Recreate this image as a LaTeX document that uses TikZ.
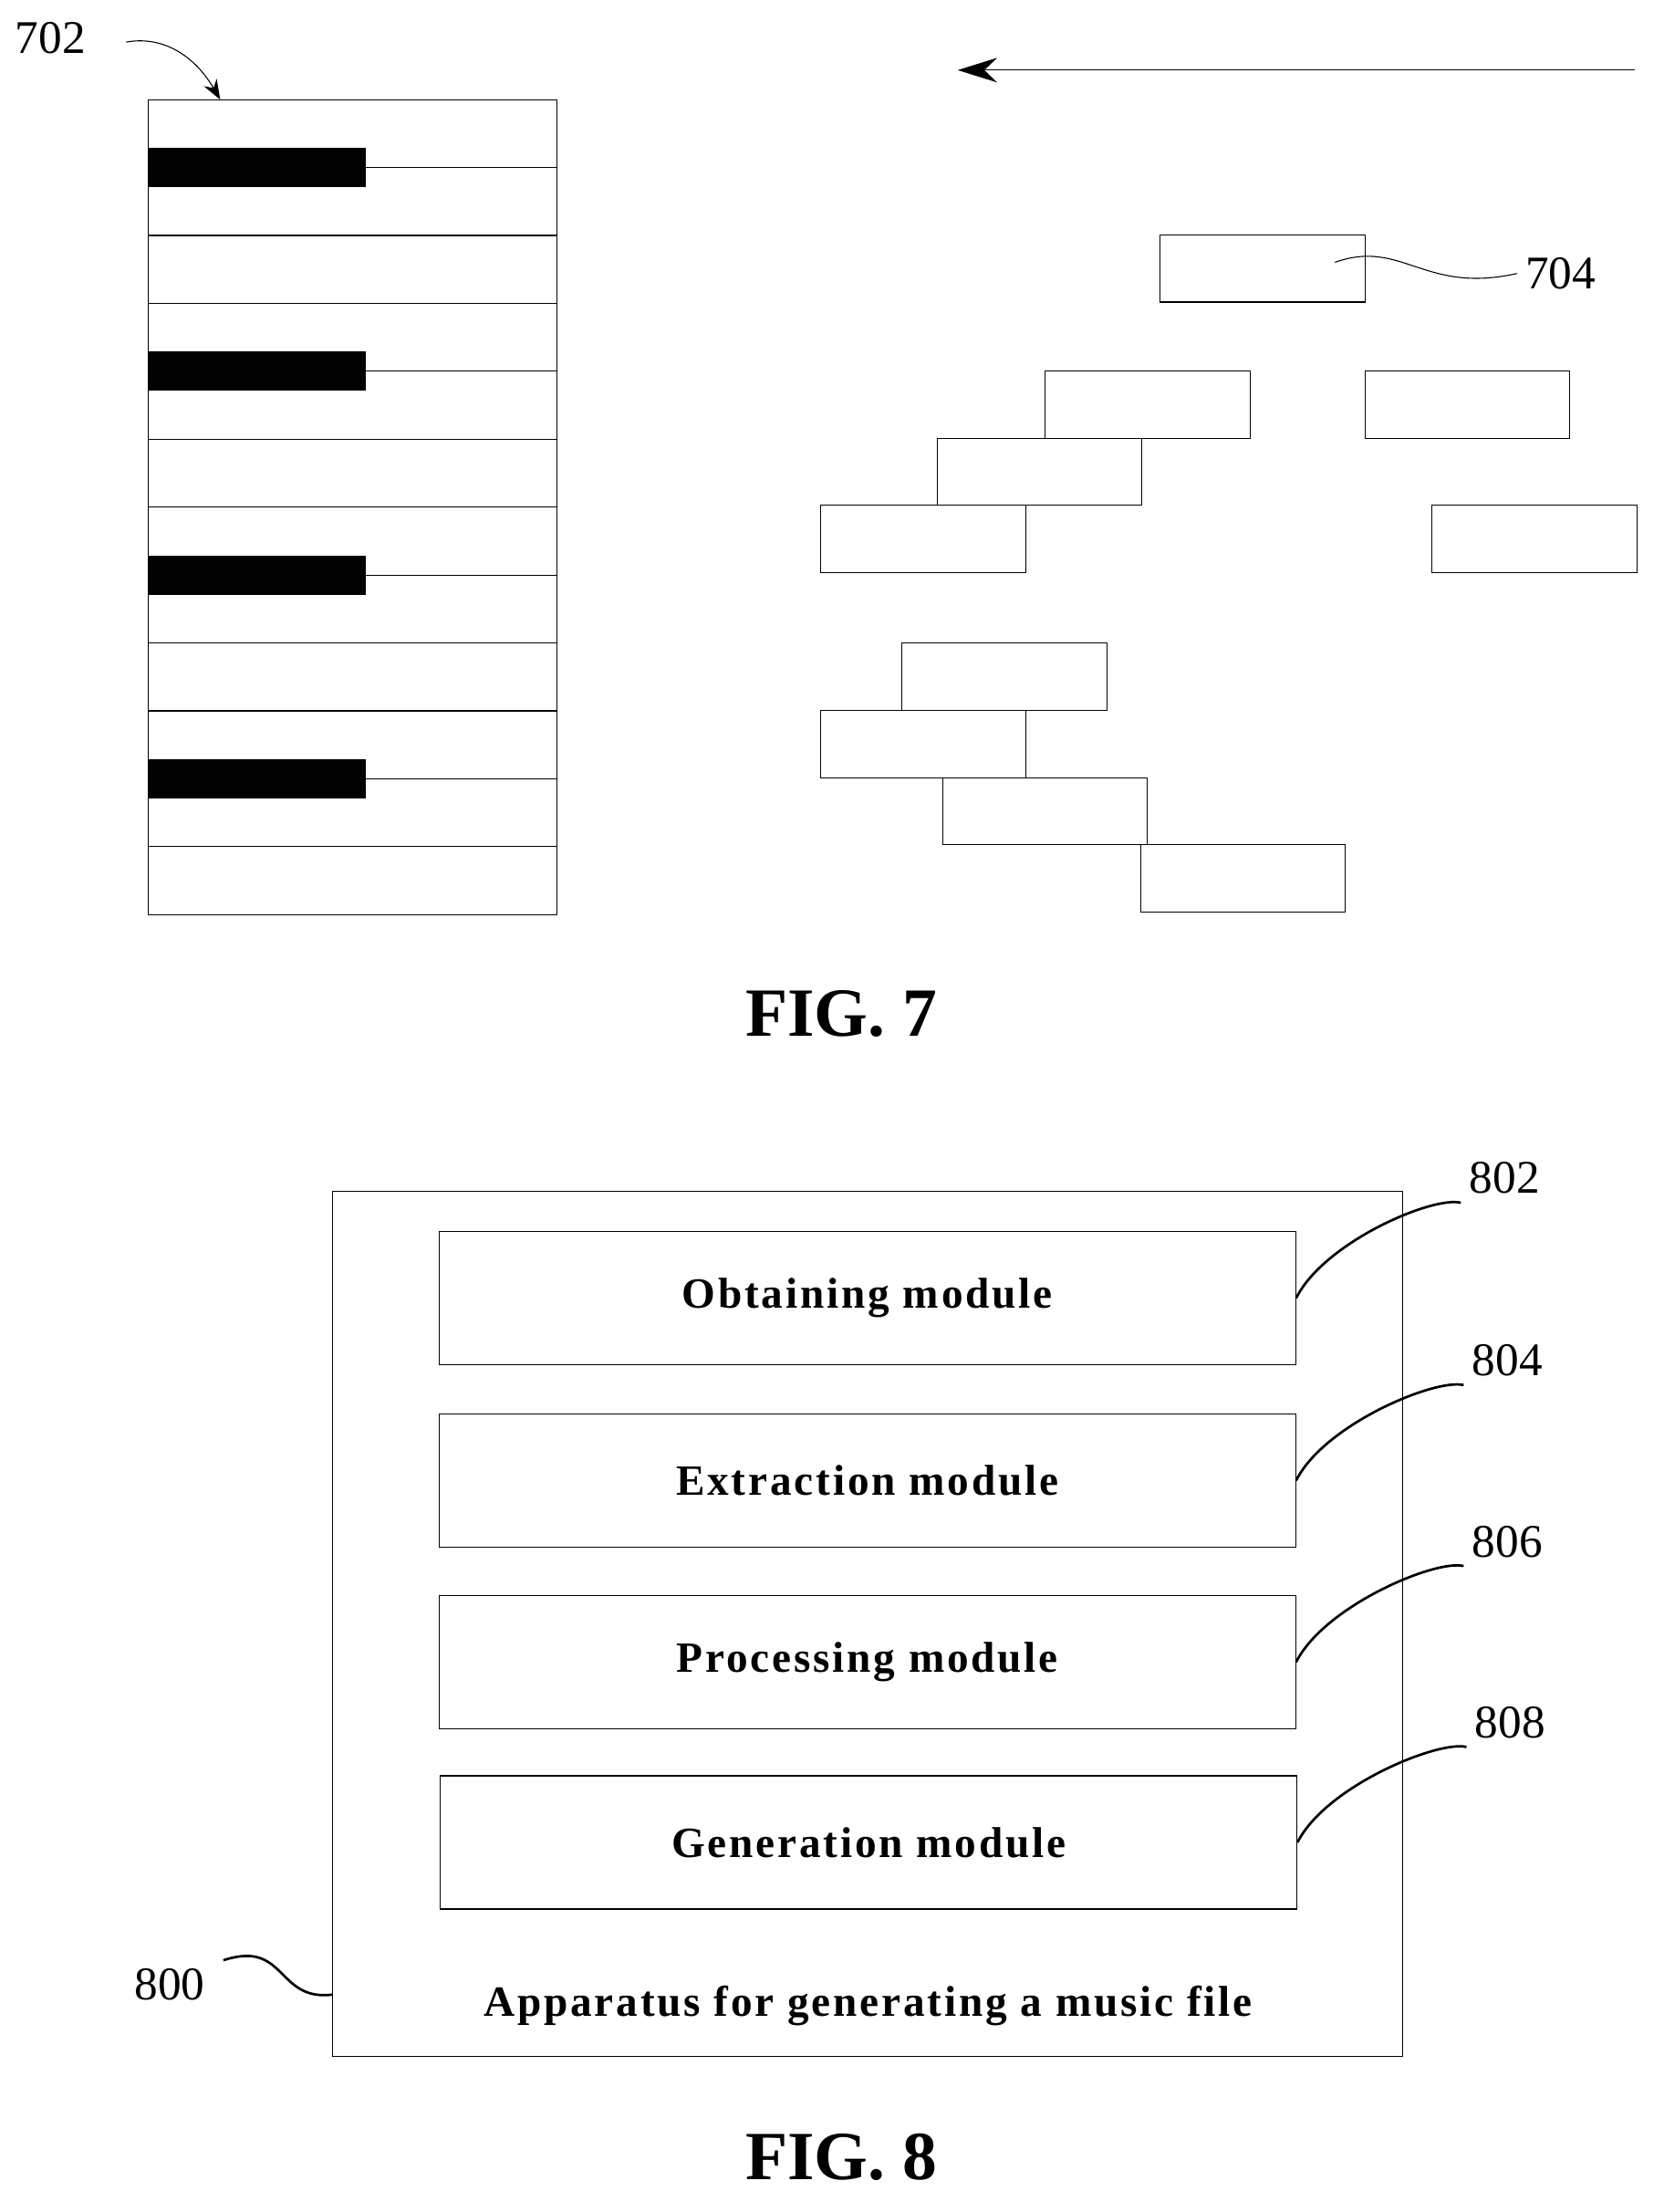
\documentclass[tikz,border=0pt]{standalone}
\usepackage{fontspec}
\setmainfont{Liberation Serif}
\usetikzlibrary{arrows.meta}

\tikzset{note/.style={draw, thin, minimum width=2.92cm, minimum height=0.96cm, inner sep=0pt, anchor=north west},
module/.style={draw, thin, minimum width=12.22cm, minimum height=1.9cm, font=\fontsize{17.5}{19}\selectfont\bfseries\addfontfeature{LetterSpace=6}},
num/.style={font=\fontsize{19}{21}\selectfont},
fig/.style={font=\fontsize{28}{32}\selectfont\bfseries},
lead/.style={thin}}

\begin{document}
\begin{tikzpicture}[x=0.02cm,y=-0.02cm]
\useasboundingbox (0,0) rectangle (1186,1577);

% piano roll
\draw[thin] (106,71) rectangle (397,652);
\foreach \r in {2,3,5,6,8,9,11}
  \draw[thin] (106,{71+\r*48.42}) -- (397,{71+\r*48.42});
\foreach \r in {1,4,7,10} {
  \fill (106,{71+\r*48.42-14}) rectangle (261,{71+\r*48.42+14});
  \draw[thin] (261,{71+\r*48.42}) -- (397,{71+\r*48.42});
}
\node[num] (l702) at (36,27) {702};
\draw[lead, -{Stealth[length=8pt]}] (90,30) to[out=10,in=120] (157,71);

% time direction
\coordinate (tstart) at (1166,50);
\coordinate (tend) at (683,50);
\draw[thin, -{Stealth[length=16pt,width=10pt]}] (tstart) -- (tend);

% notes
\node[note] (n1) at (827,167) {};
\node[note] (n2) at (745,264) {};
\node[note] (n3) at (973,264) {};
\node[note] (n4) at (668,312) {};
\node[note] (n5) at (585,360) {};
\node[note] (n6) at (1021,360) {};
\node[note] (n7) at (643,458) {};
\node[note] (n8) at (585,506) {};
\node[note] (n9) at (672,554) {};
\node[note] (n10) at (813,602) {};
\node[num] (l704) at (1113,195) {704};
\draw[lead] (952,187) .. controls (1000,170) and (1015,210) .. (l704.west);

\node[fig] (fig7) at (600,723) {FIG. 7};

% apparatus
\node[draw, thin, minimum width=15.26cm, minimum height=12.34cm, anchor=north west] (app) at (237,849) {};
\node[module] (obt) at (618.5,925.5) {Obtaining module};
\node[module] (ext) at (618.5,1055.5) {Extraction module};
\node[module] (pro) at (618.5,1185) {Processing module};
\node[module] (gen) at (619.5,1313.5) {Generation module};
\node[font=\fontsize{17.5}{19}\selectfont\bfseries\addfontfeature{LetterSpace=6}] (atext) at (619,1430) {Apparatus for generating a music file};

\node[num] (l802) at (1073,840) {802};
\node[num] (l804) at (1075,970) {804};
\node[num] (l806) at (1075,1099) {806};
\node[num] (l808) at (1077,1228) {808};
\foreach \m/\l in {obt/l802,ext/l804,pro/l806,gen/l808}
  \draw[lead, line width=1pt] (\m.east) .. controls +(20,-40) and +(-20,-5) .. (\l.south west);
\node[num] (l800) at (121,1415) {800};
\draw[lead, line width=1pt] ([xshift=4]l800.north east) .. controls +(45,-15) and +(-40,5) .. (app.west |- 0,1422);

\node[fig] (fig8) at (600,1538) {FIG. 8};
\end{tikzpicture}
\end{document}
